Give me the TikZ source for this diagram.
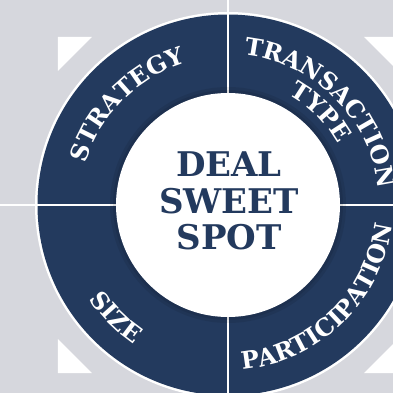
\documentclass[tikz,border=0pt]{standalone}
\usepackage{fontspec}
\setmainfont{DejaVu Serif}
\newfontfamily\ringfont{DejaVu Serif}
\usetikzlibrary{decorations.text}
\definecolor{navy}{RGB}{35,58,94}
\definecolor{backgray}{RGB}{214,215,221}
\tikzset{
  corner/.style={fill=white},
  divider/.style={white, line width=2pt},
  ringlabel/.style={decorate, decoration={text along path, text align=center,
    text color=white, text={|\ringfont\bfseries\fontsize{24}{26}\selectfont|#1}}}
}

\begin{document}
\begin{tikzpicture}[x=1pt,y=1pt]
	\useasboundingbox (-228,-188) rectangle (165,205);
	\fill[backgray] (-228,-188) rectangle (165,205);
	\fill[corner] (-170,168) -- (-136,168) -- (-170,134) -- cycle;
	\fill[corner] (-170,-168) -- (-136,-168) -- (-170,-134) -- cycle;
	\fill[corner] (170,168) -- (136,168) -- (170,134) -- cycle;
	\fill[corner] (170,-168) -- (136,-168) -- (170,-134) -- cycle;
	\fill[white] (0,0) circle[radius=193pt];
	\fill[navy] (0,0) circle[radius=190.5pt];
	\draw[divider] (0,-188) -- (0,205);
	\draw[divider] (-228,0) -- (165,0);
	\fill[black, opacity=0.08] (0,0) circle[radius=118pt];
	\fill[black, opacity=0.08] (0,0) circle[radius=115pt];
	\fill[white] (0,0) circle[radius=112pt];
	\node[navy, align=center, inner sep=0pt, font=\bfseries\fontsize{34}{36.5}\selectfont] (sweetspot) at (1,4) {DEAL\\SWEET\\SPOT};
	\path[ringlabel=STRATEGY] (180:148pt) arc[start angle=180, end angle=90, radius=148pt];
	\path[ringlabel=TRANSACTION] (90:151pt) arc[start angle=90, end angle=0, radius=151pt];
	\path[ringlabel=TYPE] (90:126pt) arc[start angle=90, end angle=0, radius=126pt];
	\path[ringlabel=SIZE] (180:168pt) arc[start angle=180, end angle=270, radius=168pt];
	\path[ringlabel=PARTICIPATION] (-92:165pt) arc[start angle=-92, end angle=0, radius=165pt];
\end{tikzpicture}
\end{document}
